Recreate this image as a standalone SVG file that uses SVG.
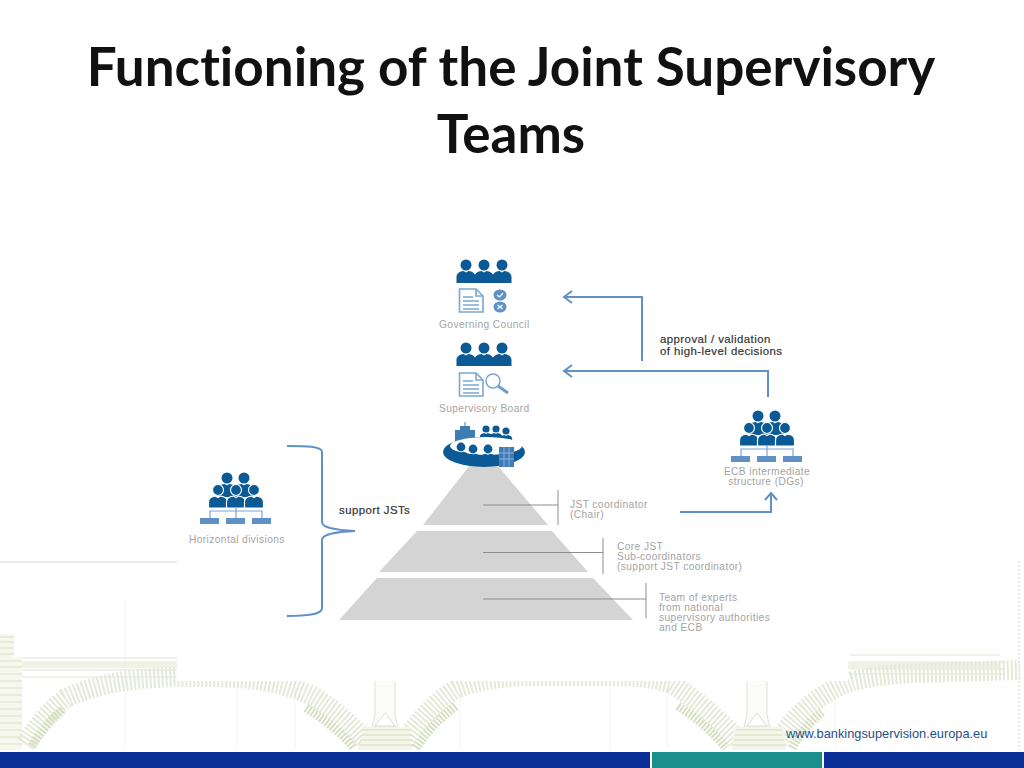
<svg xmlns="http://www.w3.org/2000/svg" width="1024" height="768" viewBox="0 0 1024 768">
<style>
.title{font:700 53px Lato,"Liberation Sans",sans-serif;font-variant-ligatures:none;fill:#111;text-anchor:middle}
.lab{font:10.200px "Liberation Sans",Arial,sans-serif;fill:#a3a3a3;letter-spacing:.4px}
.mid{text-anchor:middle}
.dark{font:11.400px "Liberation Sans",Arial,sans-serif;fill:#333;stroke:#333;stroke-width:.2px;letter-spacing:.45px}
.conn{fill:none;stroke:#5f91c6;stroke-width:2}
.lead{fill:none;stroke:#8d8d8d;stroke-width:1}
.tier{fill:#d4d4d4}
.dk{fill:#0b5a96}
.lt{fill:#5f91c4}
.ol{fill:#fff;stroke:#7ba6cf;stroke-width:1.6}
.ln{stroke:#7ba6cf;stroke-width:1.6;fill:none}
.band{fill:none;stroke:#e4e9d8;stroke-width:20;stroke-dasharray:2 2}
.spr{fill:none;stroke:#d6dfc0;stroke-width:9;stroke-dasharray:2 1.500}
.rail{stroke:#dfe5d1;stroke-width:1;fill:none}
.hair{stroke:#f3f5ee;stroke-width:1;fill:none}
</style>
<defs>
<filter id="soft" x="-5%" y="-5%" width="110%" height="110%"><feGaussianBlur stdDeviation="0.4"/></filter>
<g id="p"><circle r="5.500" class="dk"/><path class="dk" d="M-9.500 18V12C-9.500 8-6 6.500-2.500 6L0 7.500L2.500 6C6 6.500 9.500 8 9.500 12V18Z"/></g>
<g id="trio"><use href="#p" x="466" y="265"/><use href="#p" x="484" y="265"/><use href="#p" x="502" y="265"/></g>
<g id="doc"><path class="ol" d="M459.500 0H476L483 7V23H459.500Z"/><path class="ln" d="M476 0V7H483M463 8H473M463 12H479M463 16H479M463 20H479"/></g>
<g id="org">
<use href="#p" x="227" y="478"/><use href="#p" x="244" y="478"/>
<path class="dk" d="M219 497L227 485L236 490L244 485L253 497Z"/>
<g stroke="#fff" stroke-width="1.200"><use href="#p" x="218" y="490"/><use href="#p" x="236" y="490"/><use href="#p" x="254" y="490"/></g>
<path d="M210 518V511H262V518M236 507V518" stroke="#7ba6cf" stroke-width="1.200" fill="none"/>
<rect x="200" y="518" width="19" height="6" class="lt"/><rect x="226" y="518" width="19" height="6" class="lt"/><rect x="252" y="518" width="19" height="6" class="lt"/>
</g>
</defs>
<rect width="1024" height="768" fill="#fff"/>
<g id="background" filter="url(#soft)">
<path d="M0 562H177" stroke="#d6d6d6" stroke-width="1"/>
<path d="M1019 561V750" stroke="#d5d5d5" stroke-width="1" stroke-dasharray="2 2"/>
<path class="hair" d="M125 600V750M237 680V750M295 680V750M460 680V750M610 680V750M667 690V750M835 690V750"/>
<path class="rail" d="M22 658H177M22 670H177M22 677H177M850 655H1000M850 662H1005M850 669H1005M850 674H1005"/>
<path d="M22 661H177V668H22ZM848 662H1000V669H848Z" fill="#eff2e5"/>
<path d="M0 634H14V657H22V750H0Z" fill="#f6f8f0"/>
<path d="M0 637H14M0 642H14M0 648H14M0 654H14M0 661H22M0 667H22M0 674H22M0 681H22M0 688H22M0 695H22M0 702H22M0 709H22M0 716H22M0 723H22M0 730H22M0 737H22M0 744H22" stroke="#d8e0c6" stroke-width="1"/>
<path class="band" d="M25 744C40 722 52 708 66 698C100 682 140 678 177 677C200 677 220 677 240 678C270 681 295 687 314 697C335 710 352 725 368 744"/>
<path class="band" d="M402 744C418 722 435 702 456 689C480 679 510 676 537 676H610C635 676 655 678 672 684C695 698 722 722 742 744"/>
<path class="band" d="M776 744C785 730 793 720 804 710C820 696 835 687 853 681C880 675 900 673 924 673L1020 670"/>
<path class="spr" d="M32 746C40 733 50 720 64 709"/>
<path class="spr" d="M306 708C324 719 342 733 354 748"/>
<path class="spr" d="M416 748C426 733 438 719 456 706"/>
<path class="spr" d="M678 706C698 719 714 733 726 748"/>
<path class="spr" d="M792 748C800 733 810 722 822 712"/>
<path d="M375 680V715L372 727H398L395 715V680M747 680V715L744 727H770L767 715V680" fill="#fbfcf8" stroke="#dee3d0" stroke-width="1"/>
<path d="M385 713L375 726H395ZM757 713L747 726H767Z" fill="#fff" stroke="#dbe1cc" stroke-width="1"/>
<path d="M362 727H410L412 750H360ZM734 727H784L786 750H732Z" fill="#f4f6ea"/>
<path d="M362 730H410M361 735H411M360 740H412M359 745H413M736 730H782M735 735H783M734 740H784M733 745H785" stroke="#d3dcbc" stroke-width="1"/>
</g>
<rect id="panel" x="177" y="160" width="671" height="521" fill="#fff"/>
<g id="footer-bar">
<rect y="752" width="650" height="16" fill="#0a2f96"/>
<rect x="652" y="752" width="170" height="16" fill="#1a8f8c"/>
<rect x="824" y="752" width="200" height="16" fill="#0a2f96"/>
</g>
<text id="url" x="786" y="738" style="font:12.800px 'Liberation Sans',Arial,sans-serif;fill:#1f4e8c">www.bankingsupervision.europa.eu</text>
<g id="title"><text class="title" x="511" y="86">Functioning of the Joint Supervisory</text><text class="title" x="511" y="153">Teams</text></g>
<g id="pyramid">
<polygon class="tier" points="470,465 497,465 548,525 423,525"/>
<polygon class="tier" points="417,531 552,531 588,572 379,572"/>
<polygon class="tier" points="377,578 593,578 633,620 339,620"/>
</g>
<g id="connectors">
<path class="conn" d="M642 361V297H565M572 291L564 297L572 303"/>
<path class="conn" d="M768 397V371H565M572 365L564 371L572 377"/>
<path class="conn" d="M680 512H771V494M765 500L771 493L777 500"/>
<path class="conn" d="M287 446C305 446 322 446 322 452V522C322 528 335 530 355 531C335 532 322 534 322 540V608C322 615 305 616 287 616"/>
<path class="lead" d="M483 505H558M558 490V525"/><path class="lead" d="M483 552.500H603M603 538V574"/><path class="lead" d="M483 599H646M646 583V618"/>
</g>
<g id="governing-council">
<use href="#trio"/>
<use href="#doc" y="289"/>
<ellipse cx="500" cy="295" rx="6.500" ry="5.500" class="lt"/><ellipse cx="500" cy="307" rx="6.500" ry="5.500" class="lt"/>
<path d="M497 295L499.500 297L503 293M497.500 305L502.500 309M502.500 305L497.500 309" stroke="#fff" stroke-width="1.200" fill="none"/>
<text class="lab" x="439" y="328">Governing Council</text>
</g>
<g id="supervisory-board">
<use href="#trio" y="83"/>
<use href="#doc" y="373"/>
<circle cx="493" cy="381" r="7" fill="#fff" stroke="#7ba6cf" stroke-width="1.500"/>
<path d="M498 386L508 393" stroke="#6f9fc8" stroke-width="3"/>
<text class="lab" x="439" y="412">Supervisory Board</text>
</g>
<g id="jst-table">
<path d="M455 442V430H460V426H470V430H475V442Z" fill="#3f7cb5"/><path d="M465 426V422" stroke="#3f7cb5"/>
<g transform="translate(486 429) scale(.65)"><use href="#p"/></g><g transform="translate(496 429) scale(.65)"><use href="#p"/></g><g transform="translate(506 431) scale(.65)"><use href="#p"/></g>
<ellipse cx="484" cy="452" rx="41" ry="15" class="dk"/>
<ellipse cx="486" cy="446" rx="36" ry="9" fill="#fff"/>
<g transform="translate(461 447) scale(.8)"><use href="#p"/></g><g transform="translate(473 449) scale(.8)"><use href="#p"/></g><g transform="translate(488 449) scale(.8)"><use href="#p"/></g>
<rect x="499" y="447" width="15" height="20" fill="#3f7cb5"/>
<path d="M499 453H514M499 459H514M504 447V467M509 447V467" stroke="#a9c7e2" stroke-width=".7"/>
</g>
<g id="pyramid-labels">
<text class="lab" x="570" y="508">JST coordinator</text><text class="lab" x="570" y="518">(Chair)</text>
<text class="lab" x="617" y="550">Core JST</text><text class="lab" x="617" y="560">Sub-coordinators</text><text class="lab" x="617" y="570">(support JST coordinator)</text>
<text class="lab" x="659" y="601">Team of experts</text><text class="lab" x="659" y="611">from national</text><text class="lab" x="659" y="621">supervisory authorities</text><text class="lab" x="659" y="631">and ECB</text>
</g>
<g id="horizontal-divisions"><use href="#org"/><text class="lab" x="189" y="543">Horizontal divisions</text></g>
<g id="ecb-structure"><use href="#org" x="531" y="-62"/><text class="lab mid" x="767" y="475">ECB intermediate</text><text class="lab mid" x="766" y="485">structure (DGs)</text></g>
<g id="connector-labels">
<text class="dark" x="660" y="343">approval / validation</text>
<text class="dark" x="660" y="355">of high-level decisions</text>
<text class="dark" x="339" y="514">support JSTs</text>
</g>
</svg>
